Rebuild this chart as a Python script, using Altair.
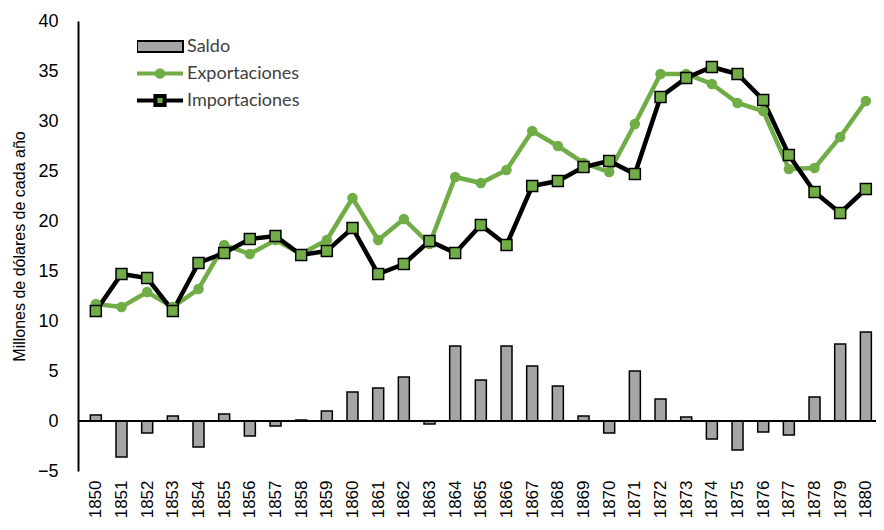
import altair as alt
import pandas as pd

years = list(range(1850, 1881))
saldo = [0.6, -3.6, -1.2, 0.5, -2.6, 0.7, -1.5, -0.5, 0.1, 1.0, 2.9, 3.3, 4.4, -0.3,
         7.5, 4.1, 7.5, 5.5, 3.5, 0.5, -1.2, 5.0, 2.2, 0.4, -1.8, -2.9, -1.1, -1.4,
         2.4, 7.7, 8.9]
exportaciones = [11.7, 11.4, 12.9, 11.4, 13.2, 17.6, 16.7, 18.1, 16.7, 18.1, 22.3, 18.1,
                 20.2, 17.7, 24.4, 23.8, 25.1, 29.0, 27.5, 25.8, 24.9, 29.7, 34.7, 34.7,
                 33.7, 31.8, 31.0, 25.2, 25.3, 28.4, 32.0]
importaciones = [11.0, 14.7, 14.3, 11.0, 15.8, 16.8, 18.2, 18.5, 16.6, 17.0, 19.3, 14.7,
                 15.7, 18.0, 16.8, 19.6, 17.6, 23.5, 24.0, 25.4, 26.0, 24.7, 32.4, 34.3,
                 35.4, 34.7, 32.1, 26.6, 22.9, 20.8, 23.2]

series_names = ["Saldo", "Exportaciones", "Importaciones"]
fill_colors = ["#a5a5a5", "#70ad47", "#70ad47"]
stroke_colors = ["#000000", "#70ad47", "#000000"]
green = "#70ad47"

df_bar = pd.DataFrame({"year": years, "value": saldo, "serie": "Saldo"})
df_lines = pd.concat([
    pd.DataFrame({"year": years, "value": exportaciones, "serie": "Exportaciones"}),
    pd.DataFrame({"year": years, "value": importaciones, "serie": "Importaciones"}),
])
df_exp = df_lines[df_lines["serie"] == "Exportaciones"]
df_imp = df_lines[df_lines["serie"] == "Importaciones"]

x_axis = alt.Axis(values=years, format="d", labelAngle=270, title=None,
                  domain=False, ticks=False, grid=False, labelPadding=9,
                  labelFont="Liberation Sans", labelFontSize=17,
                  labelColor="#000000", labelOverlap=False)
x_scale = alt.Scale(domain=[1849.5, 1880.2], nice=False, zero=False)
x_enc = alt.X("year:Q", scale=x_scale, axis=x_axis)
y_enc = alt.Y("value:Q",
              scale=alt.Scale(domain=[-5, 40], nice=False),
              axis=alt.Axis(values=list(range(-5, 41, 5)),
                            title="Millones de dólares de cada año",
                            titleFont="Liberation Sans", titleFontSize=16,
                            titleFontWeight="normal", titleColor="#000000",
                            titlePadding=10,
                            labelFont="Liberation Sans", labelFontSize=18,
                            labelColor="#000000", labelPadding=20,
                            ticks=False, grid=False, domain=True,
                            domainColor="#000000", domainWidth=2))

fill_scale = alt.Scale(domain=series_names, range=fill_colors)
stroke_scale = alt.Scale(domain=series_names, range=stroke_colors)

shape_expr = ("datum.value === 'Saldo' ? 'M-1,-0.24H1V0.24H-1Z' : "
              "datum.value === 'Exportaciones' ? "
              "'M-1,0H1M-0.14,0A0.14,0.14,0,1,1,0.14,0A0.14,0.14,0,1,1,-0.14,0Z' : "
              "'M-1,0H-0.2M0.2,0H1M-0.2,-0.2H0.2V0.2H-0.2Z'")
sw_expr = "datum.value === 'Saldo' ? 2 : 4"


def make_legend():
    return alt.Legend(
        title=None, orient="none", legendX=59, legendY=12, padding=0,
        symbolSize=2116, clipHeight=27, rowPadding=0,
        symbolOffset=14, labelOffset=18,
        labelFont="Lato", labelFontSize=18, labelColor="#404040",
        labelBaseline="middle",
        symbolType={"expr": shape_expr},
        symbolStrokeWidth={"expr": sw_expr},
        symbolOpacity=1,
    )


bars = alt.Chart(df_bar).mark_bar(size=11, stroke="#000000", strokeWidth=1.5).encode(
    x=x_enc, y=y_enc,
    fill=alt.Fill("serie:N", scale=fill_scale, legend=make_legend()),
)

zero_rule = alt.Chart(df_bar).mark_rule(color="#000000", strokeWidth=2).encode(
    y=alt.datum(0)
)

lines = alt.Chart(df_lines).mark_line(strokeWidth=4.5).encode(
    x=alt.X("year:Q", scale=x_scale, axis=x_axis), y=alt.Y("value:Q"),
    stroke=alt.Stroke("serie:N", scale=stroke_scale, legend=make_legend()),
)

circles = alt.Chart(df_exp).mark_circle(size=110, color=green, opacity=1).encode(
    x=alt.X("year:Q", scale=x_scale, axis=x_axis), y="value:Q"
)

squares = alt.Chart(df_imp).mark_square(size=120, fill=green, stroke="#000000",
                                         strokeWidth=1.5, opacity=1, filled=True).encode(
    x=alt.X("year:Q", scale=x_scale, axis=x_axis), y="value:Q"
)

chart = alt.layer(bars, zero_rule, lines, circles, squares).properties(
    width=798, height=450,
    padding={"left": 70, "top": 13, "right": 0, "bottom": 47},
    autosize=alt.AutoSizeParams(type="none"),
).configure_view(stroke=None).configure_axis(labelOverlap=False)

chart.save("out.html", embed_options={"renderer": "svg", "actions": False})
